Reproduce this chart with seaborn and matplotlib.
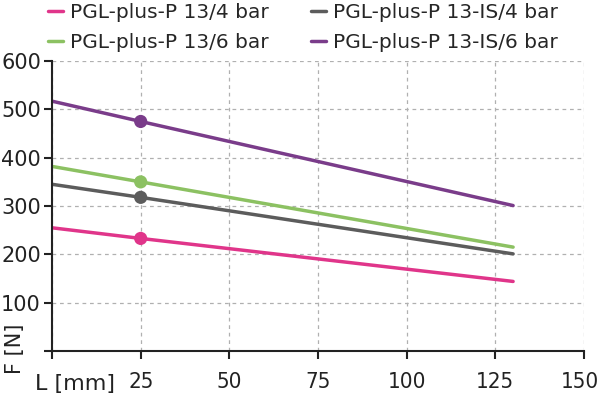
import pandas as pd
import seaborn as sns
import matplotlib.pyplot as plt
import matplotlib.transforms as mtransforms

# dados
series = ['PGL-plus-P 13/4 bar', 'PGL-plus-P 13-IS/4 bar',
          'PGL-plus-P 13/6 bar', 'PGL-plus-P 13-IS/6 bar']
comprimento = [0, 25, 130]
forca_13_4 = [255, 233, 144]
forca_13is_4 = [345, 318, 201]
forca_13_6 = [382, 350, 215]
forca_13is_6 = [517, 475, 301]
cores = ['#e0358a', '#5c5c5c', '#8cc162', '#7a3c8a']
ponto_x = 25

x_ticks = [0, 25, 50, 75, 100, 125, 150]
y_ticks = [0, 100, 200, 300, 400, 500, 600]

df = pd.DataFrame({
    'L': comprimento * 4,
    'F': forca_13_4 + forca_13is_4 + forca_13_6 + forca_13is_6,
    'serie': [s for s in series for _ in comprimento],
})
pontos = df[df['L'] == ponto_x]

sns.set_theme(style="white")
plt.rcParams['font.family'] = ['DejaVu Sans']

fig = plt.figure(figsize=(6, 3.98), dpi=100)
ax = fig.add_axes([0.0867, 0.118, 0.8867, 0.7286])

paleta = dict(zip(series, cores))
sns.lineplot(data=df, x='L', y='F', hue='serie', hue_order=series,
             palette=paleta, linewidth=2.5, ax=ax, legend=True)
sns.scatterplot(data=pontos, x='L', y='F', hue='serie', hue_order=series,
                palette=paleta, s=90, edgecolor='none', ax=ax,
                legend=False, zorder=5)

ax.set_xlim(0, 150)
ax.set_ylim(0, 600)
ax.set_xticks(x_ticks)
ax.set_xticklabels([''] + [str(v) for v in x_ticks[1:]])
ax.set_yticks(y_ticks)
ax.set_yticklabels([''] + [str(v) for v in y_ticks[1:]])
ax.set_xlabel('')
ax.set_ylabel('')

ax.grid(True, linestyle=(0, (3, 3)), color='#b0b0b0', linewidth=0.9)
for lado in ['top', 'right']:
    ax.spines[lado].set_visible(False)
for lado in ['left', 'bottom']:
    ax.spines[lado].set_color('#222222')
    ax.spines[lado].set_linewidth(1.5)
ax.tick_params(axis='both', direction='out', length=6, width=1.5,
               color='#222222', labelcolor='#222222',
               left=True, bottom=True)
ax.tick_params(axis='y', labelsize=15, pad=2)
ax.tick_params(axis='x', labelsize=16, pad=9)
for rotulo in ax.get_xticklabels():
    rotulo.set_fontstretch('condensed')
# o "150" encosta na borda: puxa um pouco para dentro
ultimo = ax.get_xticklabels()[-1]
ultimo.set_transform(ultimo.get_transform() +
                     mtransforms.ScaledTranslation(-4 / 100, 0, fig.dpi_scale_trans))

# rótulos dos eixos no lugar do zero
fig.text(75 / 600, 1 - 384 / 398, 'L [mm]', ha='center', va='center',
         fontsize=16, color='#222222')
fig.text(15 / 600, 1 - 349 / 398, 'F [N]', ha='center', va='center',
         rotation=90, fontsize=15, color='#222222')

# legenda em duas colunas, preenchida por linha
handles, labels = ax.get_legend_handles_labels()
ordem = [0, 2, 1, 3]
ax.legend([handles[i] for i in ordem], [labels[i] for i in ordem],
          ncol=2, loc='upper left', bbox_to_anchor=(0.08, 0.993),
          bbox_transform=fig.transFigure, frameon=False, fontsize=14.5,
          handlelength=0.75, handletextpad=0.35, columnspacing=2.1,
          labelspacing=0.55, borderpad=0, borderaxespad=0)

plt.savefig('out.png', dpi=100)
